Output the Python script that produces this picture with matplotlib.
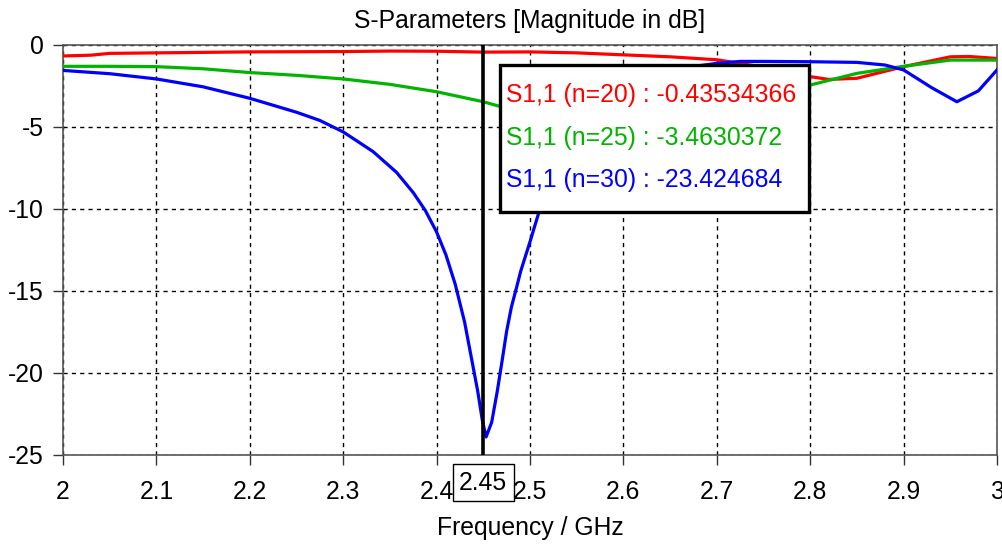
import matplotlib
matplotlib.use("Agg")
import matplotlib.pyplot as plt
from matplotlib.patches import Rectangle

# S1,1 curves (frequency in GHz, magnitude in dB)
freq_n20 = [2.0, 2.03, 2.05, 2.1, 2.15, 2.2, 2.3, 2.35, 2.4, 2.45, 2.5, 2.55,
            2.6, 2.65, 2.7, 2.75, 2.8, 2.82, 2.85, 2.9, 2.95, 2.97, 3.0]
s11_n20 = [-0.67, -0.62, -0.51, -0.48, -0.45, -0.42, -0.40, -0.37, -0.38, -0.435, -0.42, -0.48,
           -0.6, -0.72, -0.9, -1.35, -1.93, -2.1, -2.03, -1.32, -0.72, -0.7, -0.82]

freq_n25 = [2.0, 2.05, 2.1, 2.15, 2.2, 2.25, 2.3, 2.35, 2.4, 2.45, 2.47, 2.5, 2.55,
            2.6, 2.65, 2.7, 2.75, 2.8, 2.85, 2.9, 2.95, 3.0]
s11_n25 = [-1.3, -1.3, -1.32, -1.45, -1.68, -1.85, -2.07, -2.4, -2.85, -3.46, -3.78, -4.2, -4.5,
           -4.6, -4.4, -3.9, -3.2, -2.44, -1.73, -1.3, -0.92, -0.92]

freq_n30 = [2.0, 2.05, 2.1, 2.15, 2.2, 2.25, 2.275, 2.3, 2.332, 2.357, 2.375, 2.388, 2.4,
            2.41, 2.42, 2.43, 2.437, 2.444, 2.449, 2.453, 2.459, 2.465, 2.47, 2.475, 2.48,
            2.486, 2.49, 2.5, 2.509, 2.53, 2.55, 2.6, 2.65, 2.7, 2.725, 2.75, 2.8, 2.85,
            2.88, 2.9, 2.93, 2.957, 2.98, 3.0]
s11_n30 = [-1.55, -1.75, -2.07, -2.55, -3.25, -4.1, -4.6, -5.3, -6.5, -7.76, -9.0, -10.1, -11.4,
           -12.8, -14.6, -16.9, -19.0, -21.1, -22.9, -23.9, -23.0, -21.1, -19.3, -17.45, -16.0,
           -14.7, -13.8, -12.0, -10.3, -7.2, -5.0, -2.4, -1.5, -1.12, -1.0, -1.0, -1.02, -1.06,
           -1.22, -1.52, -2.6, -3.46, -2.8, -1.52]

series_labels = ["S1,1 (n=20)", "S1,1 (n=25)", "S1,1 (n=30)"]
marker_values = ["-0.43534366", "-3.4630372", "-23.424684"]
marker_freq = 2.45
colors = ["#ff0000", "#00b400", "#0000ff"]

x_ticks = [2, 2.1, 2.2, 2.3, 2.4, 2.5, 2.6, 2.7, 2.8, 2.9, 3]
x_ticklabels = ["2", "2.1", "2.2", "2.3", "2.4", "2.5", "2.6", "2.7", "2.8", "2.9", "3"]
y_ticks = [0, -5, -10, -15, -20, -25]

plt.rcParams['font.family'] = ['Liberation Sans', 'DejaVu Sans']
plt.rcParams['axes.unicode_minus'] = False
fs = 17.8

fig = plt.figure(figsize=(10.03, 5.53), dpi=100)
ax = fig.add_axes([63 / 1003, 1 - 455 / 553, 934 / 1003, 410 / 553])

ax.plot(freq_n20, s11_n20, color=colors[0], lw=2.3, zorder=3)
ax.plot(freq_n25, s11_n25, color=colors[1], lw=2.3, zorder=3)
ax.plot(freq_n30, s11_n30, color=colors[2], lw=2.3, zorder=3)

ax.set_xlim(2, 3)
ax.set_ylim(-25, 0)
ax.set_xticks(x_ticks)
ax.set_xticklabels(x_ticklabels)
ax.set_yticks(y_ticks)
ax.tick_params(axis='both', labelsize=fs, length=7, width=1, color='#333333', direction='out')
ax.tick_params(axis='x', pad=11)
ax.tick_params(axis='y', pad=7)
ax.grid(True, color='black', linestyle=(0, (3, 3)), linewidth=1.0)
for sp in ax.spines.values():
    sp.set_color('#555555')
    sp.set_linewidth(1.2)

ax.set_title("S-Parameters [Magnitude in dB]", fontsize=fs, pad=12)
ax.set_xlabel("Frequency / GHz", fontsize=fs, labelpad=9)

# marker line and its readout
ax.axvline(marker_freq, color='black', lw=2.6, zorder=4)
ax.text(marker_freq, -25.95, "2.45", fontsize=fs, ha='center', va='top', zorder=6,
        clip_on=False, bbox=dict(facecolor='white', edgecolor='black', lw=1, pad=4.5))

box = Rectangle((2.4679, -10.18), 0.3308, 8.96, facecolor='white', edgecolor='black',
                lw=2.4, zorder=5)
ax.add_patch(box)
rows_y = [-3.46, -6.1, -8.64]
for lab, val, c, yy in zip(series_labels, marker_values, colors, rows_y):
    ax.text(2.4745, yy, f"{lab} : {val}", color=c, fontsize=fs, va='baseline', ha='left', zorder=6)

fig.savefig("out.png", dpi=100)
